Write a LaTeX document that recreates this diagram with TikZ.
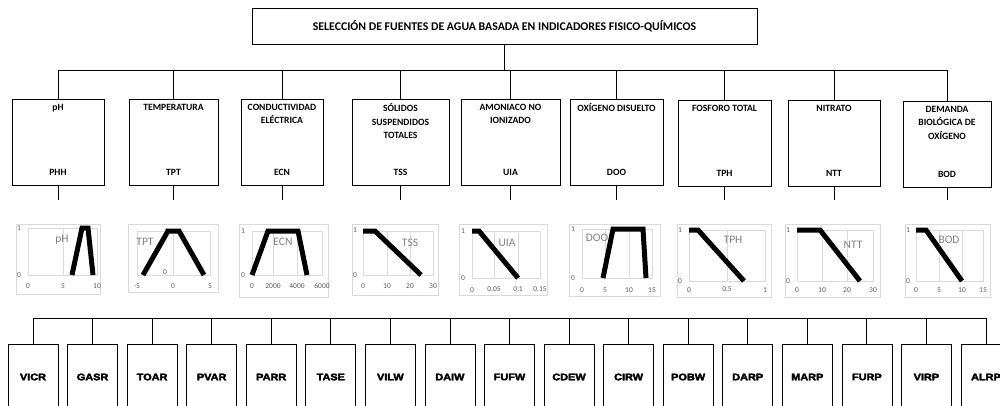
\documentclass[tikz,border=0pt]{standalone}
\usepackage{fontspec}
\setmainfont{Carlito}
\newfontfamily\heavyfont[FakeBold=3.5,FakeStretch=1.15]{Liberation Sans Bold}
\usepackage{tikz}
\usetikzlibrary{positioning}
\definecolor{ChartGrid}{HTML}{D9D9D9}
\definecolor{ChartText}{HTML}{595959}
\definecolor{ChartLabel}{HTML}{7F7F7F}

\begin{document}
\begin{tikzpicture}[x=1pt, y=-1pt,
            titlebox/.style={draw, line width=0.9pt, minimum width=505pt, minimum height=36pt, font=\bfseries\fontsize{11.8}{13}\selectfont},
            parambox/.style={draw, line width=0.7pt, minimum height=86pt, inner sep=0pt},
            paramname/.style={font=\bfseries\fontsize{9.6}{13.5}\selectfont, align=center, inner sep=1pt},
            paramcode/.style={font=\bfseries\fontsize{9.6}{10}\selectfont, inner sep=1pt},
            sourcebox/.style={draw, line width=0.7pt, minimum width=50pt, minimum height=66pt, font=\heavyfont\fontsize{9.5}{10}\selectfont},
            link/.style={draw, line width=0.8pt},
            chartframe/.style={draw=ChartGrid, line width=0.6pt},
            gridline/.style={draw=ChartGrid, line width=0.6pt},
            tick/.style={text=ChartText, font=\fontsize{7.5}{8}\selectfont, inner sep=0pt},
            chartname/.style={text=ChartLabel, font=\fontsize{11.5}{12}\selectfont, inner sep=0pt},
            member/.style={line width=5pt}
        ]
            \useasboundingbox (0,0) rectangle (1000,406);

            \node[titlebox] (title) at (504.5,26) {SELECCIÓN DE FUENTES DE AGUA BASADA EN INDICADORES FISICO-QUÍMICOS};
            \coordinate (topbus) at (504.5,70);
            \coordinate (stubend) at (0,200);
            \coordinate (lowbus) at (0,318);

            % indicadores
            \node[parambox, minimum width=92pt] (phh) at (58,142) {};
            \node[parambox, minimum width=89pt] (tpt) at (173.5,142) {};
            \node[parambox, minimum width=82pt] (ecn) at (282,142) {};
            \node[parambox, minimum width=97pt] (tss) at (400.5,142) {};
            \node[parambox, minimum width=99pt] (uia) at (510.5,142) {};
            \node[parambox, minimum width=93pt] (doo) at (616.5,142) {};
            \node[parambox, minimum width=93pt] (tph) at (724.5,143) {};
            \node[parambox, minimum width=92pt] (ntt) at (834,143) {};
            \node[parambox, minimum width=88pt] (bod) at (947,144) {};

            \node[paramname, below=4pt of phh.north] {pH};
            \node[paramname, below=4pt of tpt.north] {TEMPERATURA};
            \node[paramname, below=4pt of ecn.north] {CONDUCTIVIDAD\\ELÉCTRICA};
            \node[paramname, below=4pt of tss.north] {SÓLIDOS\\SUSPENDIDOS\\TOTALES};
            \node[paramname, below=4pt of uia.north] {AMONIACO NO\\IONIZADO};
            \node[paramname, below=4pt of doo.north] {OXÍGENO DISUELTO};
            \node[paramname, below=4pt of tph.north] {FOSFORO TOTAL};
            \node[paramname, below=4pt of ntt.north] {NITRATO};
            \node[paramname, below=4pt of bod.north] {DEMANDA\\BIOLÓGICA DE\\OXÍGENO};

            \node[paramcode, above=9pt of phh.south] {PHH};
            \node[paramcode, above=9pt of tpt.south] {TPT};
            \node[paramcode, above=9pt of ecn.south] {ECN};
            \node[paramcode, above=9pt of tss.south] {TSS};
            \node[paramcode, above=9pt of uia.south] {UIA};
            \node[paramcode, above=9pt of doo.south] {DOO};
            \node[paramcode, above=9pt of tph.south] {TPH};
            \node[paramcode, above=9pt of ntt.south] {NTT};
            \node[paramcode, above=9pt of bod.south] {BOD};

            \draw[link] (title.south) -- (topbus);
            \draw[link] (phh.north |- topbus) -- (bod.north |- topbus);
            \foreach \b in {phh,tpt,ecn,tss,uia,doo,tph,ntt,bod} {
                \draw[link] (\b.north |- topbus) -- (\b.north);
                \draw[link] (\b.south) -- (\b.south |- stubend);
            }

            % funciones de pertenencia
            % pH
            \draw[chartframe] (16,224) rectangle (100,294);
            \draw[gridline] (28,228) rectangle (97,275) (63,228) -- (63,275);
            \foreach \x/\t in {28/0,63/5,97/10} \node[tick] at (\x,286) {\t};
            \node[tick] at (19,228) {1}; \node[tick] at (19,275) {0};
            \node[chartname] at (62,240) {pH};
            \draw[member] (72,275) -- (82,228) -- (88,228) -- (93,275);
            % TPT
            \draw[chartframe] (128,224) rectangle (218,292);
            \draw[gridline] (137,231) rectangle (210,275) (173,231) -- (173,275);
            \foreach \x/\t in {137/-5,173/0,210/5} \node[tick] at (\x,286) {\t};
            \node[tick] at (166,231) {1}; \node[tick] at (165,272) {0};
            \node[chartname] at (145,242) {TPT};
            \draw[member] (143,275) -- (168,231) -- (179,231) -- (204,275);
            % ECN
            \draw[chartframe] (239,224) rectangle (328,297);
            \draw[gridline] (252,231) rectangle (322,275) (273,231) -- (273,275) (297,231) -- (297,275);
            \foreach \x/\t in {252/0,273/2000,297/4000,322/6000} \node[tick] at (\x,286) {\t};
            \node[tick] at (243,231) {1}; \node[tick] at (243,275) {0};
            \node[chartname] at (283,242) {ECN};
            \draw[member] (252,275) -- (268,231) -- (298,231) -- (307,275);
            % TSS
            \draw[chartframe] (352,224) rectangle (438,295);
            \draw[gridline] (363,231) rectangle (433,275) (387,231) -- (387,275) (410,231) -- (410,275);
            \foreach \x/\t in {363/0,387/10,410/20,433/30} \node[tick] at (\x,286) {\t};
            \node[tick] at (355,230) {1}; \node[tick] at (355,275) {0};
            \node[chartname] at (410,243) {TSS};
            \draw[member] (363,231) -- (375,231) -- (421,275);
            % UIA
            \draw[chartframe] (459,224) rectangle (547,295);
            \draw[gridline] (472,231) rectangle (540,278) (494,231) -- (494,278) (518,231) -- (518,278);
            \foreach \x/\t in {472/0,494/{0,05},518/{0,1},540/{0,15}} \node[tick] at (\x,290) {\t};
            \node[tick] at (463,231) {1}; \node[tick] at (463,278) {0};
            \node[chartname] at (507,243) {UIA};
            \draw[member] (472,231) -- (479,231) -- (518,278);
            % DOO
            \draw[chartframe] (569,224) rectangle (660,296);
            \draw[gridline] (582,229) rectangle (652,278) (605,229) -- (605,278) (629,229) -- (629,278);
            \foreach \x/\t in {582/0,605/5,629/10,652/15} \node[tick] at (\x,290) {\t};
            \node[tick] at (573,229) {1}; \node[tick] at (573,278) {0};
            \node[chartname] at (597,238) {DOO};
            \draw[member] (603,278) -- (613,229) -- (643,229) -- (646,278);
            % TPH
            \draw[chartframe] (677,224) rectangle (771,297);
            \draw[gridline] (689,230) rectangle (765,281) (727,230) -- (727,281);
            \foreach \x/\t in {689/0,727/{0,5},765/1} \node[tick] at (\x,290) {\t};
            \node[tick] at (680,230) {1}; \node[tick] at (680,281) {0};
            \node[chartname] at (733,240) {TPH};
            \draw[member] (689,230) -- (698,230) -- (744,281);
            % NTT
            \draw[chartframe] (785,224) rectangle (880,297);
            \draw[gridline] (797,230) rectangle (873,281) (822,230) -- (822,281) (847,230) -- (847,281);
            \foreach \x/\t in {797/0,822/10,847/20,873/30} \node[tick] at (\x,290) {\t};
            \node[tick] at (788,230) {1}; \node[tick] at (788,281) {0};
            \node[chartname] at (853,245) {NTT};
            \draw[member] (797,230) -- (820,230) -- (860,281);
            % BOD
            \draw[chartframe] (905,224) rectangle (990,297);
            \draw[gridline] (916,230) rectangle (983,281) (939,230) -- (939,281) (962,230) -- (962,281);
            \foreach \x/\t in {916/0,939/5,962/10,983/15} \node[tick] at (\x,290) {\t};
            \node[tick] at (908,230) {1}; \node[tick] at (908,281) {0};
            \node[chartname] at (949,240) {BOD};
            \draw[member] (916,230) -- (926,230) -- (962,281);

            % fuentes de agua
            \foreach \code [count=\i from 0] in {VICR,GASR,TOAR,PVAR,PARR,TASE,VILW,DAIW,FUFW,CDEW,CIRW,POBW,DARP,MARP,FURP,VIRP,ALRP}
                \node[sourcebox] (src\i) at ({33+59.56*\i},377) {\code};
            \draw[link] (src0.north |- lowbus) -- (src16.north |- lowbus);
            \foreach \i in {0,...,16}
                \draw[link] (src\i.north |- lowbus) -- (src\i.north);

        \end{tikzpicture}
\end{document}
